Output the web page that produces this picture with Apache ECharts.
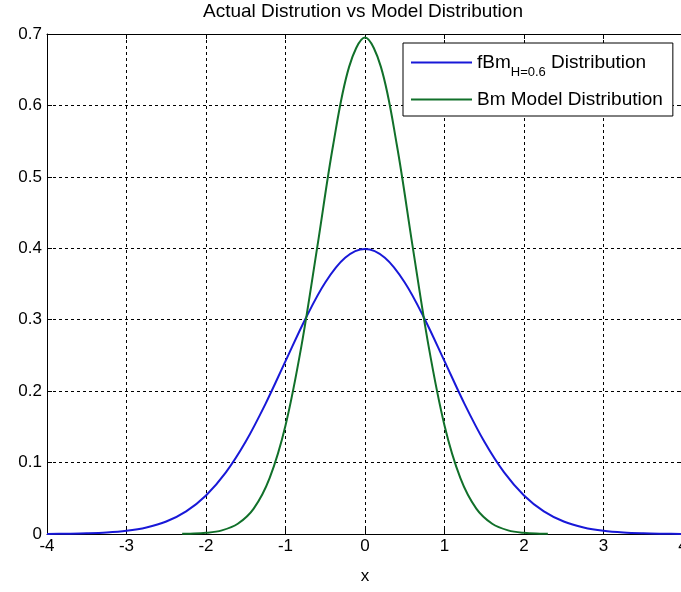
<!DOCTYPE html>
<html>
<head>
<meta charset="utf-8">
<script src="https://cdn.jsdelivr.net/npm/echarts@6/dist/echarts.min.js"></script>
<style>
  html, body { margin: 0; padding: 0; background: #fff; }
  #chart { width: 681px; height: 592px; }
</style>
</head>
<body>
<div id="chart"></div>
<script>
// Actual (fBm, H = 0.6) density vs. the Bm model density
const fbmX = [-4, -3.75, -3.5, -3.25, -3, -2.75, -2.5, -2.25, -2, -1.75, -1.5, -1.25, -1, -0.75, -0.5, -0.25,
  0, 0.25, 0.5, 0.75, 1, 1.25, 1.5, 1.75, 2, 2.25, 2.5, 2.75, 3, 3.25, 3.5, 3.75, 4];
const fbmY = [0.0001, 0.0004, 0.0009, 0.0020, 0.0044, 0.0091, 0.0175, 0.0317, 0.0540, 0.0863, 0.1295, 0.1826,
  0.2420, 0.3011, 0.3521, 0.3867, 0.3989, 0.3867, 0.3521, 0.3011, 0.2420, 0.1826, 0.1295, 0.0863, 0.0540,
  0.0317, 0.0175, 0.0091, 0.0044, 0.0020, 0.0009, 0.0004, 0.0001];

const bmX = [-2.3, -2.2, -2.0, -1.8, -1.6, -1.4, -1.2, -1.0, -0.8, -0.6, -0.4, -0.2,
  0, 0.2, 0.4, 0.6, 0.8, 1.0, 1.2, 1.4, 1.6, 1.8, 2.0, 2.2, 2.3];
const bmY = [0.0002, 0.0004, 0.0016, 0.0051, 0.0143, 0.0355, 0.0782, 0.152, 0.263, 0.402, 0.545, 0.654,
  0.695, 0.654, 0.545, 0.402, 0.263, 0.152, 0.0782, 0.0355, 0.0143, 0.0051, 0.0016, 0.0004, 0.0002];

const xTickLabels = ['-4', '-3', '-2', '-1', '0', '1', '2', '3', '4'];
const yTickLabels = ['0', '0.1', '0.2', '0.3', '0.4', '0.5', '0.6', '0.7'];

const FONT = '"Liberation Sans", Arial, sans-serif';
const FBM_NAME = 'fBm H=0.6 Distribution';
const BM_NAME = 'Bm Model Distribution';

const xLabel = v => xTickLabels[Math.round(v + 4)];
const yLabel = v => yTickLabels[Math.round(v * 10)];

const dashedGrid = { show: true, lineStyle: { color: '#000', width: 1, type: [3, 3] } };
const boxLine = { show: true, onZero: false, lineStyle: { color: '#000', width: 1 } };
const tick = { show: true, inside: true, length: 5, lineStyle: { color: '#000' } };

const chart = echarts.init(document.getElementById('chart'), null, { renderer: 'canvas' });
chart.setOption({
  animation: false,
  backgroundColor: '#fff',
  title: {
    text: 'Actual Distrution vs Model Distribution',
    left: 203, top: 2, padding: 0,
    textStyle: { fontFamily: FONT, fontSize: 19, fontWeight: 'normal', color: '#000' }
  },
  grid: { left: 47, top: 34, right: -2, bottom: 58, containLabel: false, outerBoundsMode: 'none' },
  xAxis: [{
    type: 'value', min: -4, max: 4, interval: 1, position: 'bottom',
    name: 'x', nameLocation: 'middle', nameGap: 34,
    nameTextStyle: { fontFamily: FONT, fontSize: 17, color: '#000' },
    axisLine: boxLine, axisTick: tick, splitLine: dashedGrid,
    axisLabel: { formatter: xLabel, margin: 4, fontFamily: FONT, fontSize: 17, color: '#000', showMinLabel: true, showMaxLabel: true }
  }, {
    type: 'value', min: -4, max: 4, interval: 1, position: 'top',
    axisLine: boxLine, axisTick: tick, splitLine: { show: false }, axisLabel: { show: false }
  }],
  yAxis: [{
    type: 'value', min: 0, max: 0.7, interval: 0.1, position: 'left',
    axisLine: boxLine, axisTick: tick, splitLine: dashedGrid,
    axisLabel: { formatter: yLabel, margin: 5, fontFamily: FONT, fontSize: 17, color: '#000' }
  }, {
    type: 'value', min: 0, max: 0.7, interval: 0.1, position: 'right',
    axisLine: boxLine, axisTick: tick, splitLine: { show: false }, axisLabel: { show: false }
  }],
  legend: {
    orient: 'vertical', left: 403, top: 43,
    padding: [3, 10, 7, 8], itemGap: 11, itemWidth: 61, itemHeight: 2, icon: 'rect',
    backgroundColor: '#fff', borderColor: '#000', borderWidth: 1, borderRadius: 0,
    data: [FBM_NAME, BM_NAME],
    formatter: name => name === FBM_NAME ? '{m|fBm}{s|H=0.6}{m| Distribution}' : '{m|' + name + '}',
    textStyle: {
      fontFamily: FONT, fontSize: 19, color: '#000',
      rich: {
        m: { fontFamily: FONT, fontSize: 19, lineHeight: 22, color: '#000' },
        s: { fontFamily: FONT, fontSize: 13, lineHeight: 13, padding: [20, 0, 0, 0], color: '#000' }
      }
    }
  },
  series: [{
    name: FBM_NAME, type: 'line', smooth: 0.35, symbol: 'none',
    lineStyle: { color: '#1818d8', width: 2 }, itemStyle: { color: '#1818d8' },
    data: fbmX.map((x, i) => [x, fbmY[i]])
  }, {
    name: BM_NAME, type: 'line', smooth: 0.35, symbol: 'none',
    lineStyle: { color: '#11702a', width: 2 }, itemStyle: { color: '#11702a' },
    data: bmX.map((x, i) => [x, bmY[i]])
  }]
});
</script>
</body>
</html>
